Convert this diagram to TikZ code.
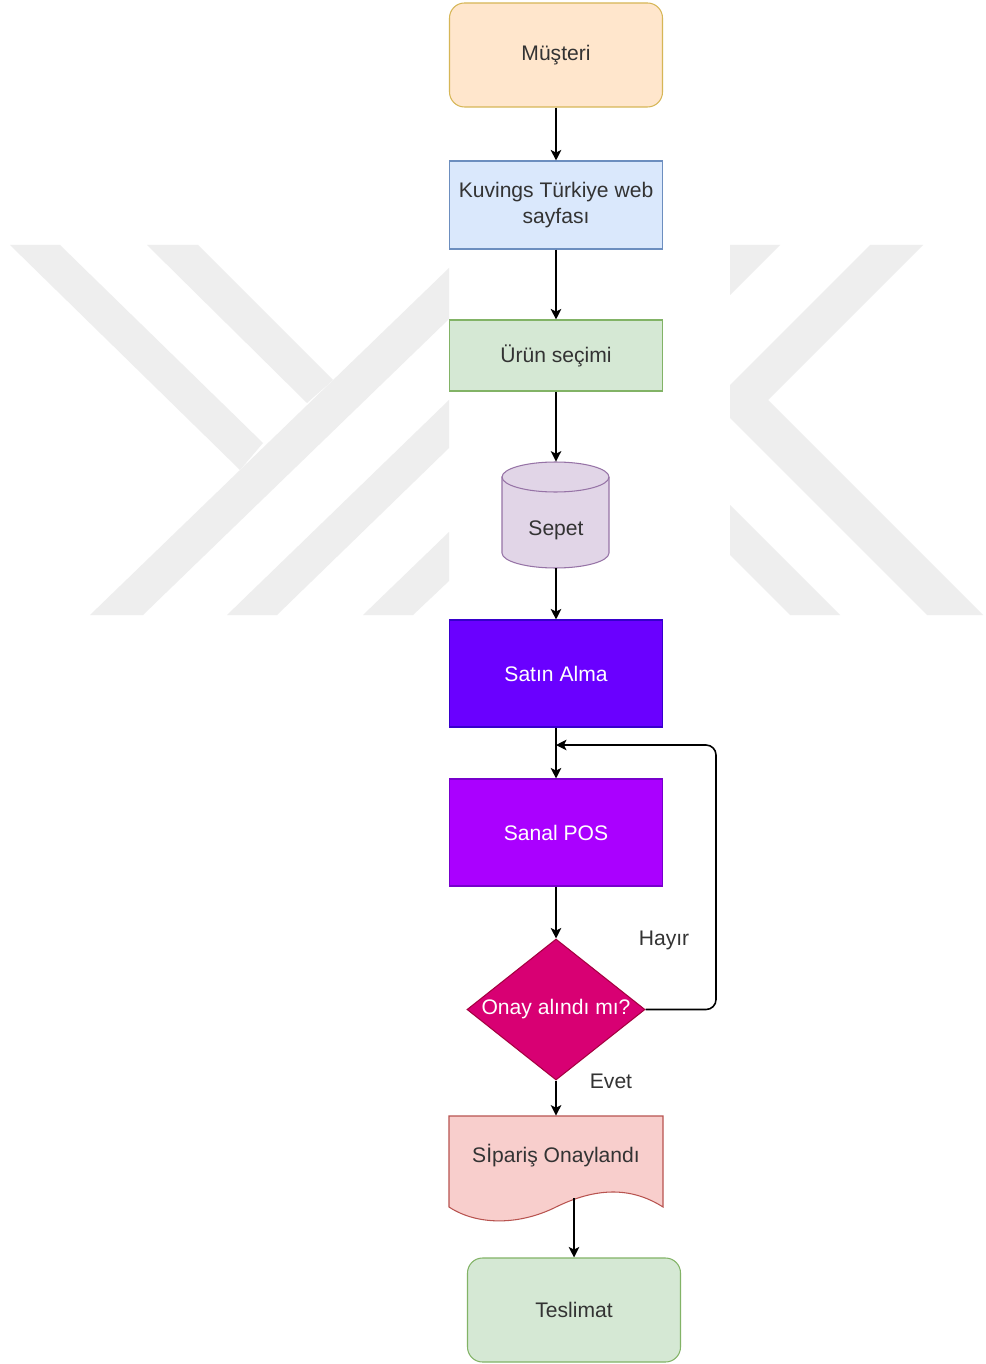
\documentclass[tikz,border=0pt]{standalone}
\usepackage{fontspec}
\setmainfont{Liberation Sans}
\usetikzlibrary{arrows.meta,shapes.geometric}

\definecolor{musfill}{HTML}{FFE6CC}
\definecolor{musdraw}{HTML}{D6B656}
\definecolor{webfill}{HTML}{DAE8FC}
\definecolor{webdraw}{HTML}{6C8EBF}
\definecolor{grnfill}{HTML}{D5E8D4}
\definecolor{grndraw}{HTML}{82B366}
\definecolor{cylfill}{HTML}{E1D5E7}
\definecolor{cyldraw}{HTML}{9673A6}
\definecolor{satfill}{HTML}{6A00FF}
\definecolor{satdraw}{HTML}{3700CC}
\definecolor{posfill}{HTML}{AA00FF}
\definecolor{posdraw}{HTML}{7700CC}
\definecolor{onyfill}{HTML}{D80073}
\definecolor{onydraw}{HTML}{A50040}
\definecolor{docfill}{HTML}{F8CECC}
\definecolor{docdraw}{HTML}{B85450}
\definecolor{txtgray}{HTML}{333333}
\definecolor{wmgray}{HTML}{EEEEEE}

\def\thepx{0.02cm}

\begin{document}
\begin{tikzpicture}[
    x=\thepx,y=-\thepx,
    thefont/.style={font=\fontsize{12}{14.5}\selectfont},
    thebox/.style={thefont,draw,rectangle,line width=0.6pt,text=txtgray,
      align=center,minimum width=213*\thepx,inner sep=0pt},
    theround/.style={thebox,rounded corners=0.3cm},
    thedark/.style={thebox,text=white},
    theblank/.style={rectangle,inner sep=0pt,thefont,text=txtgray},
    thelabel/.style={thefont,text=txtgray,inner sep=1pt},
    thearrow/.style={line width=0.9pt,-{Stealth[length=6pt,width=6pt,inset=1.5pt]}}
    ]

    \useasboundingbox (0,0) rectangle (985,1364);
    \fill[white] (0,0) rectangle (985,1364);

    % watermark
    \fill[wmgray] (10,245) -- (60,245) -- (263,443) -- (240,470) -- cycle;
    \fill[wmgray] (147,245) -- (198,245) -- (333,380) -- (307,403) -- cycle;
    \fill[wmgray] (90,615) -- (143,615) -- (449,319) -- (449,268) -- cycle;
    \fill[wmgray] (227,615) -- (277,615) -- (449,448) -- (449,400) -- cycle;
    \fill[wmgray] (363,615) -- (413,615) -- (449,581) -- (449,532) -- cycle;
    \fill[wmgray] (730,245) -- (780,245) -- (730,295) -- cycle;
    \fill[wmgray] (870,245) -- (923,245) -- (768,400) -- (983,615) -- (927,615)
      -- (730,418) -- (730,385) -- cycle;
    \fill[wmgray] (730,505) -- (840,615) -- (790,615) -- (730,555) -- cycle;

    % boxes
    \node[theround,fill=musfill,draw=musdraw,minimum height=104*\thepx]
      (musteri) at (556,55) {Müşteri};
    \node[thebox,fill=webfill,draw=webdraw,minimum height=88*\thepx]
      (kuvings) at (556,205) {Kuvings Türkiye web\\sayfası};
    \node[thebox,fill=grnfill,draw=grndraw,minimum height=71*\thepx]
      (urun) at (556,355.5) {Ürün seçimi};

    \draw[fill=cylfill,draw=cyldraw,line width=0.6pt] (502,477) -- (502,553)
      arc[start angle=180,end angle=360,x radius=1.07cm,y radius=0.3cm]
      -- (609,477)
      arc[start angle=0,end angle=180,x radius=1.07cm,y radius=0.3cm] -- cycle;
    \draw[draw=cyldraw,line width=0.6pt] (502,477)
      arc[start angle=180,end angle=360,x radius=1.07cm,y radius=0.3cm];
    \node[theblank,minimum width=107*\thepx,minimum height=106*\thepx]
      (sepet) at (556,515) {};
    \node[theblank] (sepettxt) at (556,530) {Sepet};

    \node[thedark,fill=satfill,draw=satdraw,minimum height=107*\thepx]
      (satin) at (556,673.5) {Satın Alma};
    \node[thedark,fill=posfill,draw=posdraw,minimum height=107*\thepx]
      (sanal) at (556,832.5) {Sanal POS};
    \node[diamond,thefont,text=white,fill=onyfill,draw=onydraw,line width=0.6pt,
      inner sep=0pt,aspect=1.26,minimum width=178*\thepx,minimum height=141*\thepx]
      (onay) at (556,1009.5) {Onay alındı mı?};

    \draw[fill=docfill,draw=docdraw,line width=0.6pt] (449,1116) -- (663,1116)
      -- (663,1207) .. controls (630,1186) and (595,1188) .. (556,1207)
      .. controls (520,1225) and (478,1226) .. (449,1207) -- cycle;
    \node[theblank,minimum width=214*\thepx,minimum height=80*\thepx]
      (siparis) at (556,1156) {Sİpariş Onaylandı};
    \coordinate (sipout) at (574,1198);

    \node[theround,fill=grnfill,draw=grndraw,minimum height=104*\thepx]
      (teslimat) at (574,1310) {Teslimat};

    % connectors
    \foreach \a/\b in {musteri/kuvings,kuvings/urun,urun/sepet,sepet/satin,
      satin/sanal,sanal/onay,onay/siparis} {
      \draw[thearrow] (\a.south) -- (\b.north);
    }
    \draw[thearrow] (sipout) -- (teslimat.north);

    \coordinate (hayirturn) at (716,745);
    \draw[thearrow,rounded corners=0.2cm] (onay.east) -| (hayirturn)
      -- (hayirturn -| sanal.north);

    \node[thelabel] (hayir) at (664,940) {Hayır};
    \node[thelabel] (evet) at (611,1081) {Evet};
  \end{tikzpicture}
\end{document}
